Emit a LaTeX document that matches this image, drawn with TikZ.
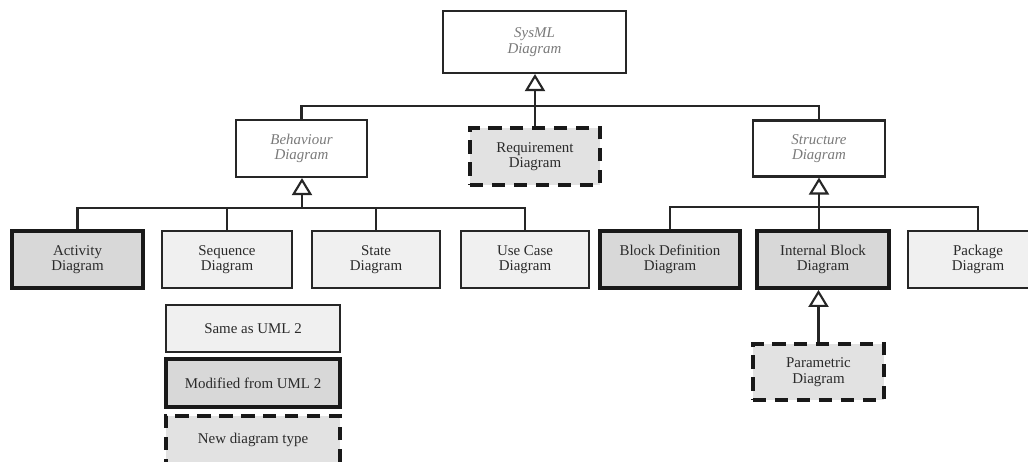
\documentclass[tikz,border=0pt]{standalone}
\usepackage{fontspec}
\setmainfont{Liberation Serif}
\usetikzlibrary{arrows.meta}
\definecolor{fillLight}{HTML}{F0F0F0}
\definecolor{fillMid}{HTML}{E2E2E2}
\definecolor{fillDark}{HTML}{D8D8D8}
\definecolor{inkText}{HTML}{2A2A2A}
\definecolor{abstractText}{HTML}{7A7A7A}
\begin{document}
\begin{tikzpicture}[x=0.02cm,y=-0.02cm,
  wh/.style 2 args={minimum width=#1*0.02cm, minimum height=#2*0.02cm, inner sep=0pt},
  basebox/.style={align=center, font=\fontsize{8.5}{8.8}\selectfont, text=inkText},
  abstractbox/.style={basebox, draw=black!85, line width=1.2pt, fill=white,
    text=abstractText, font=\fontsize{8.5}{8.8}\selectfont\itshape},
  samebox/.style={basebox, draw=black!85, line width=1.2pt, fill=fillLight},
  modbox/.style={basebox, draw=black!90, line width=2.2pt, fill=fillDark},
  newbox/.style={basebox, draw=black!90, line width=2.2pt, fill=fillMid,
    dash pattern=on 7.5pt off 5pt},
  link/.style={draw=black!85, line width=1.2pt},
  gen/.style={link, -{Triangle[open, length=0.34cm, width=0.4cm]}},
]
\useasboundingbox[fill=white] (0,0) rectangle (1028,462);

% top level
\node[abstractbox, wh={183}{62}] (sysml) at (534.5,42) {SysML\\Diagram};

% second level
\node[abstractbox, wh={131}{57}] (behav) at (301.5,148.5) {Behaviour\\Diagram};
\node[newbox, wh={130}{57}] (req) at (535,156.5) {Requirement\\Diagram};
\node[abstractbox, wh={132}{56}] (struct) at (819,148.5) {Structure\\Diagram};

% behaviour diagrams
\node[modbox, wh={131}{57}] (activity) at (77.5,259.5) {Activity\\Diagram};
\node[samebox, wh={130}{57}] (sequence) at (227,259.5) {Sequence\\Diagram};
\node[samebox, wh={128}{57}] (state) at (376,259.5) {State\\Diagram};
\node[samebox, wh={128}{57}] (usecase) at (525,259.5) {Use Case\\Diagram};

% structure diagrams
\node[modbox, wh={140}{57}] (blockdef) at (670,259.5) {Block Definition\\Diagram};
\node[modbox, wh={132}{57}] (internal) at (823,259.5) {Internal Block\\Diagram};
\node[samebox, wh={140}{57}] (package) at (978,259.5) {Package\\Diagram};
\node[newbox, wh={131}{56}] (parametric) at (818.5,372) {Parametric\\Diagram};

% legend
\node[samebox, wh={174}{47}] (legsame) at (253,328.5) {Same as UML 2};
\node[modbox, wh={174}{48}] (legmod) at (253,383) {Modified from UML 2};
\node[newbox, wh={174}{48}] (legnew) at (253,440) {New diagram type};

% bus junctions
\coordinate (busTop) at (535,106);
\coordinate (busBeh) at (302,208);
\coordinate (busStr) at (819,207);

% SysML generalisations
\draw[link] (behav.north) |- (busTop) -| (struct.north);
\draw[gen] (req.north) -- (req.north |- sysml.south);

% behaviour generalisations
\draw[link] (activity.north) |- (usecase.north |- busBeh) -- (usecase.north);
\draw[link] (sequence.north) -- (sequence.north |- busBeh);
\draw[link] (state.north) -- (state.north |- busBeh);
\draw[gen] (busBeh) -- (busBeh |- behav.south);

% structure generalisations
\draw[link] (blockdef.north) |- (busStr) -| (package.north);
\draw[gen] (struct.south |- internal.north) -- (struct.south);
\draw[gen] (parametric.north) -- (parametric.north |- internal.south);
\end{tikzpicture}
\end{document}
